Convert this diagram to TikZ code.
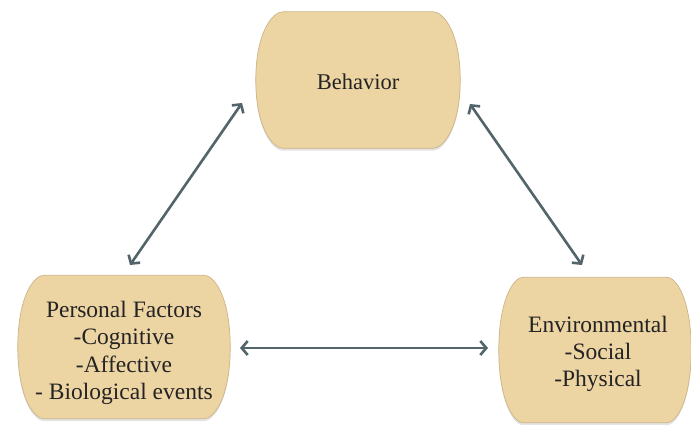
\documentclass[tikz,border=0pt]{standalone}
\usepackage{fontspec}
\setmainfont{Liberation Serif}
\usetikzlibrary{arrows.meta,calc,shadows,backgrounds}

\definecolor{cardfill}{HTML}{ECD4A3}
\definecolor{cardedge}{HTML}{CDB487}
\definecolor{linkcol}{HTML}{53656A}
\definecolor{inkcol}{HTML}{242424}

\tikzset{
  card/.style={draw=none, inner sep=0pt},
  cardtext/.style={align=center, text=inkcol, inner sep=0pt,
    font=\fontsize{23.5}{27.3}\selectfont},
  cardbody/.style={fill=cardfill, draw=cardedge, line width=0.7pt,
    drop shadow={opacity=0.22, shadow xshift=0pt, shadow yshift=-2.5pt}},
  link/.style={draw=linkcol, line width=2.6pt,
    {Straight Barb[length=6pt,width=14pt,line width=2.6pt]}-{Straight Barb[length=6pt,width=14pt,line width=2.6pt]}}
}

% Card outline: flat top and bottom, bulging barrel sides.
% #2 = horizontal inset of the flat edges, #3 = vertical pull of the side curves.
% (y axis points down in this picture)
\newcommand{\cardoutline}[3]{%
  \path[cardbody]
    ($(#1.north west)+(#2,0)$) -- ($(#1.north east)+(-#2,0)$)
    .. controls ($(#1.north east)+(-0.63*#2,0)$) and ($(#1.east)+(0,-#3)$) .. (#1.east)
    .. controls ($(#1.east)+(0,#3)$) and ($(#1.south east)+(-0.63*#2,0)$) .. ($(#1.south east)+(-#2,0)$)
    -- ($(#1.south west)+(#2,0)$)
    .. controls ($(#1.south west)+(0.63*#2,0)$) and ($(#1.west)+(0,#3)$) .. (#1.west)
    .. controls ($(#1.west)+(0,-#3)$) and ($(#1.north west)+(0.63*#2,0)$) .. cycle;%
}

\begin{document}
\begin{tikzpicture}[x=1pt,y=-1pt]
  \useasboundingbox (0,0) rectangle (691,424);

  % card frames
  \node[card, minimum width=204pt, minimum height=136pt] (beh) at (358,80) {};
  \node[card, minimum width=212pt, minimum height=143pt] (pers) at (124,347) {};
  \node[card, minimum width=192pt, minimum height=145pt] (env) at (595,350) {};

  % card texts
  \node[cardtext, font=\fontsize{22.5}{27}\selectfont] (behtext) at ($(beh)+(0,2)$) {Behavior};
  \node[cardtext] (perstext) at ($(pers)+(0,6)$)
    {Personal Factors\\-Cognitive\\-Affective\\- Biological events};
  \node[cardtext] (envtext) at ($(env)+(3,4)$)
    {Environmental\\-Social\\-Physical};

  \begin{scope}[on background layer]
    \fill[white] (0,0) rectangle (691,424);
    \cardoutline{beh}{27}{48}
    \cardoutline{pers}{26}{51}
    \cardoutline{env}{24}{51}
  \end{scope}

  \coordinate (bl) at (242,103);
  \coordinate (pt) at (130,265);
  \coordinate (br) at (470,104);
  \coordinate (et) at (582,265);
  \coordinate (pr) at (240,348);
  \coordinate (el) at (488,348);

  \draw[link] (bl) -- (pt);
  \draw[link] (br) -- (et);
  \draw[link] (pr) -- (el);
\end{tikzpicture}
\end{document}
